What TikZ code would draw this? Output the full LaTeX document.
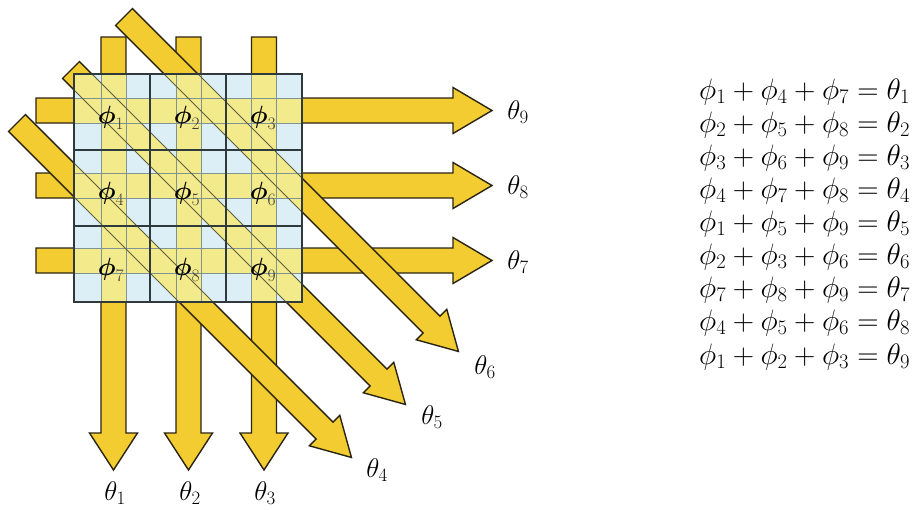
\RequirePackage{fix-cm}
\documentclass[tikz,border=0pt]{standalone}
\usepackage{amsmath}
\definecolor{baryellow}{HTML}{F2CC30}
\definecolor{outl}{HTML}{2A2412}
\definecolor{pale}{HTML}{F3EA8C}
\definecolor{lblue}{HTML}{DDEFF6}
\definecolor{bandedge}{HTML}{7F9492}
\definecolor{diagedge}{HTML}{5E5E3E}
\definecolor{cellline}{HTML}{2E3A3C}
\definecolor{subgray}{HTML}{3A3A3A}
\begin{document}
\begin{tikzpicture}[x=1pt,y=-1pt,
  barst/.style={fill=baryellow,draw=outl,line width=1.4pt,line join=miter},
  palefill/.style={fill=pale},
  bedge/.style={draw=bandedge,line width=0.7pt},
  dedge/.style={draw=diagedge,line width=0.8pt},
  cline/.style={draw=cellline,line width=1.2pt},
  cellphi/.style={font=\fontsize{25}{28}\selectfont,inner sep=0pt},
  thlabel/.style={font=\fontsize{27}{30}\selectfont,inner sep=0pt},
  eqlabel/.style={font=\fontsize{29.5}{32}\selectfont,inner sep=0pt,anchor=west}]
\useasboundingbox (0,0) rectangle (915,509);

% horizontal bars with right arrows
\foreach \yc in {110.5,185.5,260.5} {
  \draw[barst] (36,\yc-12.5) -- (453,\yc-12.5) -- (453,\yc-23) -- (492,\yc)
    -- (453,\yc+23) -- (453,\yc+12.5) -- (36,\yc+12.5) -- cycle;
}
% vertical bars with down arrows
\foreach \xc in {113.5,188.5,264} {
  \draw[barst] (\xc-12.5,37) -- (\xc-12.5,433) -- (\xc-24,433) -- (\xc,470)
    -- (\xc+24,433) -- (\xc+12.5,433) -- (\xc+12.5,37) -- cycle;
}
% diagonal bars with arrows
\foreach \tx/\ty in {17/123,71/70,124/17} {
  \begin{scope}[shift={(\tx,\ty)},rotate=-45]
    \draw[barst] (0,-12) -- (435,-12) -- (435,-21.5) -- (473,0)
      -- (435,21.5) -- (435,12) -- (0,12) -- cycle;
  \end{scope}
}

% the grid
\begin{scope}
  \clip (74,74) rectangle (302,302);
  \fill[lblue] (74,74) rectangle (302,302);
  \foreach \yc in {110.5,185.5,260.5}
    \fill[palefill] (74,\yc-12.5) rectangle (302,\yc+12.5);
  \foreach \xc in {113.5,188.5,264}
    \fill[palefill] (\xc-12.5,74) rectangle (\xc+12.5,302);
  \foreach \tx/\ty in {17/123,71/70,124/17} {
    \begin{scope}[shift={(\tx,\ty)},rotate=-45]
      \fill[palefill] (0,-12) rectangle (473,12);
    \end{scope}
  }
  \foreach \yc in {110.5,185.5,260.5}
    \draw[bedge] (74,\yc-12.5) -- (302,\yc-12.5) (74,\yc+12.5) -- (302,\yc+12.5);
  \foreach \xc in {113.5,188.5,264}
    \draw[bedge] (\xc-12.5,74) -- (\xc-12.5,302) (\xc+12.5,74) -- (\xc+12.5,302);
  \foreach \tx/\ty in {17/123,71/70,124/17} {
    \begin{scope}[shift={(\tx,\ty)},rotate=-45]
      \draw[dedge] (0,-12) -- (473,-12) (0,12) -- (473,12);
    \end{scope}
  }
\end{scope}
\foreach \v in {150,226} {
  \draw[cline] (\v,74) -- (\v,302);
  \draw[cline] (74,\v) -- (302,\v);
}
\draw[cline] (74,74) rectangle (302,302);

% cell labels
\foreach \r/\cy in {0/112,1/188,2/264} {
  \foreach \c/\cx in {1/112,2/188,3/264} {
    \pgfmathtruncatemacro{\k}{3*\r+\c}
    \node[cellphi] (p\k) at (\cx-1,\cy+6) {$\boldsymbol{\phi}_{\textcolor{subgray}{\k}}$};
  }
}

% output labels
\node[thlabel] (t1) at (115,493) {$\theta_1$};
\node[thlabel] (t2) at (190,493) {$\theta_2$};
\node[thlabel] (t3) at (265,493) {$\theta_3$};
\node[thlabel] (t4) at (377,470) {$\theta_4$};
\node[thlabel] (t5) at (432,417) {$\theta_5$};
\node[thlabel] (t6) at (485,367) {$\theta_6$};
\node[thlabel] (t7) at (518,262) {$\theta_7$};
\node[thlabel] (t8) at (518,187) {$\theta_8$};
\node[thlabel] (t9) at (518,112) {$\theta_9$};

% equations
\node[eqlabel] (e1) at (699,92)  {$\phi_1+\phi_4+\phi_7=\theta_1$};
\node[eqlabel] (e2) at (699,125) {$\phi_2+\phi_5+\phi_8=\theta_2$};
\node[eqlabel] (e3) at (699,158) {$\phi_3+\phi_6+\phi_9=\theta_3$};
\node[eqlabel] (e4) at (699,191) {$\phi_4+\phi_7+\phi_8=\theta_4$};
\node[eqlabel] (e5) at (699,224) {$\phi_1+\phi_5+\phi_9=\theta_5$};
\node[eqlabel] (e6) at (699,257) {$\phi_2+\phi_3+\phi_6=\theta_6$};
\node[eqlabel] (e7) at (699,290) {$\phi_7+\phi_8+\phi_9=\theta_7$};
\node[eqlabel] (e8) at (699,323) {$\phi_4+\phi_5+\phi_6=\theta_8$};
\node[eqlabel] (e9) at (699,357) {$\phi_1+\phi_2+\phi_3=\theta_9$};
\end{tikzpicture}
\end{document}
